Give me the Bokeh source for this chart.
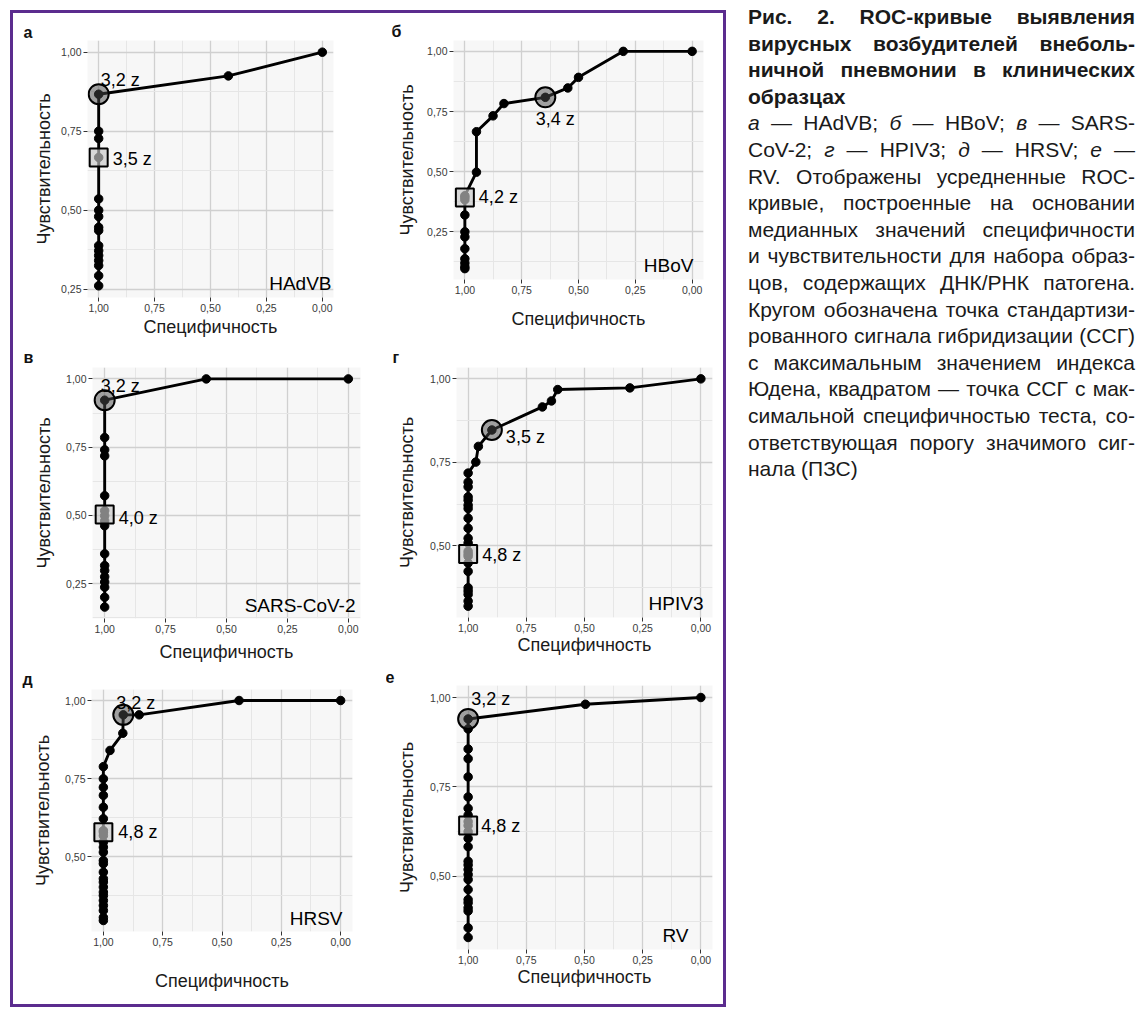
from bokeh.plotting import figure
from bokeh.models import Range1d, FixedTicker, CustomJSTickFormatter, Div
from bokeh.layouts import row, column
from bokeh.embed import file_html
from bokeh.resources import INLINE
from bokeh.core.properties import value

# ---------------- data ----------------
panel_letters = ["а", "б", "в", "г", "д", "е"]
virus_names = ["HAdVB", "HBoV", "SARS-CoV-2", "HPIV3", "HRSV", "RV"]
tick_values = [0.0, 0.25, 0.50, 0.75, 1.0]
minor_tick_values = [0.125, 0.375, 0.625, 0.875]
x_axis_title = "Специфичность"
y_axis_title = "Чувствительность"

hadvb_spec = [0.00, 0.42, 1.00, 1.00, 1.00, 1.00, 1.00, 1.00, 1.00, 1.00,
              1.00, 1.00, 1.00, 1.00, 1.00, 1.00, 1.00, 1.00]
hadvb_sens = [1.00, 0.925, 0.867, 0.750, 0.727, 0.667, 0.536, 0.500, 0.480, 0.446,
              0.436, 0.388, 0.372, 0.357, 0.341, 0.325, 0.293, 0.261]

hbov_spec = [0.00, 0.303, 0.500, 0.547, 0.646, 0.828, 0.876, 0.949, 0.949, 1.00,
             1.00, 1.00, 1.00, 1.00, 1.00, 1.00, 1.00, 1.00, 1.00, 1.00]
hbov_sens = [1.00, 1.00, 0.892, 0.848, 0.809, 0.783, 0.732, 0.666, 0.498, 0.400,
             0.393, 0.383, 0.320, 0.250, 0.229, 0.180, 0.138, 0.120, 0.105, 0.097]

sars_spec = [0.00, 0.583, 1.00, 1.00, 1.00, 1.00, 1.00, 1.00, 1.00, 1.00,
             1.00, 1.00, 1.00, 1.00, 1.00, 1.00, 1.00, 1.00, 1.00]
sars_sens = [1.00, 1.00, 0.922, 0.785, 0.740, 0.718, 0.572, 0.517, 0.499, 0.480,
             0.462, 0.359, 0.316, 0.298, 0.275, 0.256, 0.237, 0.200, 0.164]

hpiv3_spec = [0.00, 0.305, 0.615, 0.642, 0.681, 0.898, 0.956, 0.967, 1.00, 1.00,
              1.00, 1.00, 1.00, 1.00, 1.00, 1.00, 1.00, 1.00, 1.00, 1.00,
              1.00, 1.00, 1.00, 1.00, 1.00, 1.00, 1.00, 1.00, 1.00]
hpiv3_sens = [1.00, 0.973, 0.968, 0.934, 0.916, 0.847, 0.798, 0.751, 0.718, 0.691,
              0.677, 0.647, 0.637, 0.622, 0.612, 0.583, 0.553, 0.523, 0.509, 0.484,
              0.476, 0.469, 0.449, 0.424, 0.375, 0.365, 0.355, 0.335, 0.320]

hrsv_spec = [0.00, 0.428, 0.849, 0.916, 0.918, 0.972, 1.00, 1.00, 1.00, 1.00,
             1.00, 1.00, 1.00, 1.00, 1.00, 1.00, 1.00, 1.00, 1.00, 1.00,
             1.00, 1.00, 1.00, 1.00, 1.00, 1.00, 1.00, 1.00, 1.00, 1.00, 1.00]
hrsv_sens = [1.00, 1.00, 0.954, 0.954, 0.895, 0.840, 0.788, 0.749, 0.722, 0.696,
             0.658, 0.621, 0.583, 0.578, 0.567, 0.546, 0.530, 0.514, 0.487, 0.477,
             0.450, 0.429, 0.418, 0.402, 0.386, 0.375, 0.359, 0.343, 0.327, 0.305, 0.295]

rv_spec = [0.00, 0.496, 1.00, 1.00, 1.00, 1.00, 1.00, 1.00, 1.00, 1.00,
           1.00, 1.00, 1.00, 1.00, 1.00, 1.00, 1.00, 1.00, 1.00, 1.00,
           1.00, 1.00, 1.00, 1.00, 1.00, 1.00, 1.00]
rv_sens = [1.00, 0.981, 0.940, 0.912, 0.856, 0.829, 0.778, 0.722, 0.690, 0.671,
           0.653, 0.642, 0.625, 0.606, 0.583, 0.542, 0.532, 0.519, 0.505, 0.491,
           0.463, 0.435, 0.426, 0.412, 0.403, 0.356, 0.329]

# Youden-optimal cut-off (circle) and significant-signal threshold (square)
youden_spec = [1.00, 0.646, 1.00, 0.898, 0.916, 1.00]
youden_sens = [0.867, 0.809, 0.922, 0.847, 0.954, 0.940]
youden_label = ["3,2 z", "3,4 z", "3,2 z", "3,5 z", "3,2 z", "3,2 z"]
pzs_spec = [1.00, 1.00, 1.00, 1.00, 1.00, 1.00]
pzs_sens = [0.667, 0.393, 0.503, 0.476, 0.578, 0.642]
pzs_label = ["3,5 z", "4,2 z", "4,0 z", "4,8 z", "4,8 z", "4,8 z"]

series = [(hadvb_spec, hadvb_sens), (hbov_spec, hbov_sens), (sars_spec, sars_sens),
          (hpiv3_spec, hpiv3_sens), (hrsv_spec, hrsv_sens), (rv_spec, rv_sens)]

# ---------------- layout / style (pixels) ----------------
# w,h: canvas; l,r,t,b: borders around the frame; m: css margin (top,right,bottom,left)
geom = [
    dict(w=321, h=328, l=70, r=5, t=27, b=44, m=(0, 0, 0, 4), toff=-64, tst=0, ylst=4, xlst=2,
         vx=-2, vy=-4, yx=2, yy=-14, ya="left", px=14, py=2),
    dict(w=325, h=328, l=70, r=5, t=27, b=62, m=(0, 0, 0, 18), toff=-62, tst=1, ylst=7, xlst=12,
         vx=-10, vy=-4, yx=10, yy=22, ya="center", px=14, py=0),
    dict(w=343, h=324, l=70, r=5, t=26, b=47, m=(0, 0, 0, 9), toff=-69, tst=4, ylst=9, xlst=6,
         vx=-5, vy=-3, yx=-4, yy=-14, ya="left", px=14, py=3),
    dict(w=331, h=323, l=70, r=5, t=26, b=47, m=(0, 6, 0, 21), toff=-64, tst=4, ylst=10, xlst=0,
         vx=-9, vy=-4, yx=14, yy=7, ya="left", px=14, py=1),
    dict(w=336, h=339, l=70, r=5, t=24, b=73, m=(0, 0, 0, 8), toff=-69, tst=4, ylst=9, xlst=22,
         vx=-10, vy=-3, yx=-7, yy=-12, ya="left", px=15, py=0),
    dict(w=331, h=340, l=70, r=5, t=21, b=55, m=(0, 6, 0, 21), toff=-71, tst=0, ylst=10, xlst=0,
         vx=-24, vy=-4, yx=3, yy=-20, ya="left", px=13, py=0),
]

FONT = "Liberation Sans"
fmt_code = "return tick.toFixed(2).replace('.', ',');"


def make_panel(i):
    spec, sens = series[i]
    g = geom[i]
    ylo, yhi = min(sens), max(sens)
    ypad = 0.05 * (yhi - ylo)
    xlo, xhi = min(spec), max(spec)
    xpad = 0.05 * (xhi - xlo)
    p = figure(width=g["w"], height=g["h"], output_backend="svg", toolbar_location=None,
               x_range=Range1d(xhi + xpad, xlo - xpad),
               y_range=Range1d(ylo - ypad, yhi + ypad),
               min_border_left=g["l"], min_border_right=g["r"],
               min_border_top=g["t"], min_border_bottom=g["b"],
               background_fill_color="#F7F7F7", border_fill_color="white",
               x_axis_label=x_axis_title, y_axis_label=y_axis_title,
               margin=g["m"])
    p.outline_line_color = None

    p.title.text = panel_letters[i]
    p.title.align = "left"
    p.title.offset = g["toff"]
    p.title.standoff = g["tst"]
    p.title.text_font = FONT
    p.title.text_font_size = "16px"
    p.title.text_font_style = "bold"
    p.title.text_color = "#111111"

    for ax in (p.xaxis[0], p.yaxis[0]):
        ax.ticker = FixedTicker(ticks=tick_values, minor_ticks=minor_tick_values)
        ax.formatter = CustomJSTickFormatter(code=fmt_code)
        ax.axis_line_color = None
        ax.major_tick_line_color = "#333333"
        ax.major_tick_line_width = 1
        ax.major_tick_out = 4
        ax.major_tick_in = 0
        ax.minor_tick_line_color = None
        ax.major_label_text_font = FONT
        ax.major_label_text_font_size = "10.5px"
        ax.major_label_text_color = "#3A3A3A"
        ax.major_label_standoff = 2
        ax.axis_label_text_font = FONT
        ax.axis_label_text_font_size = "18px"
        ax.axis_label_text_font_style = "normal"
        ax.axis_label_text_color = "#1A1A1A"
    p.yaxis[0].axis_label_standoff = g["ylst"]
    p.xaxis[0].axis_label_standoff = g["xlst"]

    for gr in (p.xgrid[0], p.ygrid[0]):
        gr.grid_line_color = "#D0D0D0"
        gr.grid_line_width = 1.3
        gr.minor_grid_line_color = "#E6E6E6"
        gr.minor_grid_line_width = 1

    # ROC curve
    p.line(spec, sens, line_color="black", line_width=2.9)
    p.scatter(spec, sens, marker="circle", size=8.5, fill_color="black", line_color="black")

    # highlighted thresholds
    p.scatter([youden_spec[i]], [youden_sens[i]], marker="circle", size=20,
              fill_color="#4A4A4A", fill_alpha=0.5, line_color="black", line_width=2)
    p.scatter([pzs_spec[i]], [pzs_sens[i]], marker="square", size=18,
              fill_color="#C8C8C8", fill_alpha=0.65, line_color="black", line_width=2)

    p.text([youden_spec[i]], [youden_sens[i]], text=[youden_label[i]],
           text_font=value(FONT), text_font_size="18px", text_color="black",
           text_align=g["ya"], text_baseline="middle", x_offset=g["yx"], y_offset=g["yy"])
    p.text([pzs_spec[i]], [pzs_sens[i]], text=[pzs_label[i]],
           text_font=value(FONT), text_font_size="18px", text_color="black",
           text_align="left", text_baseline="middle", x_offset=g["px"], y_offset=g["py"])

    # virus name in the lower-right corner of the panel
    p.text([xlo - xpad], [ylo - ypad], text=[virus_names[i]],
           text_font=value(FONT), text_font_size="19px", text_color="black",
           text_align="right", text_baseline="bottom", x_offset=g["vx"], y_offset=g["vy"])
    return p


figs = [make_panel(i) for i in range(6)]

left_col = column(figs[0], figs[2], figs[4])
right_col = column(figs[1], figs[3], figs[5])
panels = row(left_col, right_col,
             styles={"border": "3px solid #5B2C8E"}, margin=(10, 0, 0, 10))

J = "text-align:justify;text-align-last:justify;white-space:nowrap;"
L = "text-align:left;white-space:nowrap;"
caption_lines = [
    (J, "<b>Рис. 2. ROC-кривые выявления</b>"),
    (J, "<b>вирусных возбудителей внеболь-</b>"),
    (J, "<b>ничной пневмонии в клинических</b>"),
    (L, "<b>образцах</b>"),
    (J, "<i>а</i> — HAdVB; <i>б</i> — HBoV; <i>в</i> — SARS-"),
    (J, "CoV-2; <i>г</i> — HPIV3; <i>д</i> — HRSV; <i>е</i> —"),
    (J, "RV. Отображены усредненные ROC-"),
    (J, "кривые, построенные на основании"),
    (J, "медианных значений специфичности"),
    (J, "и чувствительности для набора образ-"),
    (J, "цов, содержащих ДНК/РНК патогена."),
    (J, "Кругом обозначена точка стандартизи-"),
    (J, "рованного сигнала гибридизации (ССГ)"),
    (J, "с максимальным значением индекса"),
    (J, "Юдена, квадратом — точка ССГ с мак-"),
    (J, "симальной специфичностью теста, со-"),
    (J, "ответствующая порогу значимого сиг-"),
    (L, "нала (ПЗС)"),
]
html = ("<div style=\"font-family:'Liberation Sans',Arial,sans-serif;font-size:21px;"
        "line-height:26.6px;color:#1A1A1A;width:387px;\">"
        + "".join(f"<div style=\"{s}\">{t}</div>" for s, t in caption_lines)
        + "</div>")
caption = Div(text=html, width=388, height=500, margin=(4, 0, 0, 22))

layout = row(panels, caption)

open("out.html", "w").write(file_html(layout, INLINE))
